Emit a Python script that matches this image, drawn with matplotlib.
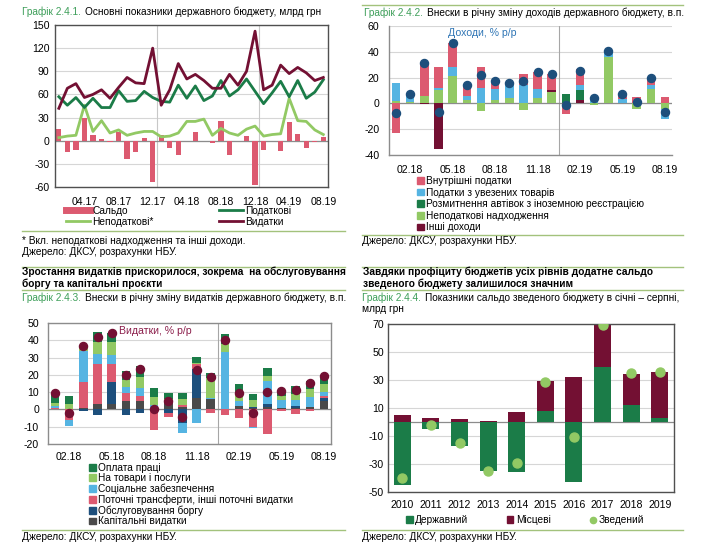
import numpy as np
import matplotlib
matplotlib.use('Agg')
import matplotlib.pyplot as plt
from matplotlib.patches import Patch
from matplotlib.lines import Line2D
from matplotlib.text import Annotation

plt.rcParams['font.family'] = ['Liberation Sans', 'DejaVu Sans']
plt.rcParams['axes.unicode_minus'] = False

# ---------- data ----------
# chart 2.4.1 (monthly, 01.17 - 08.19), bn UAH
m1_ticks = ['04.17', '08.17', '12.17', '04.18', '08.18', '12.18', '04.19', '08.19']
spending = [42, 68, 74, 56, 60, 66, 55, 69, 82, 75, 74, 120, 46, 66, 100, 80,
            86, 78, 68, 68, 86, 72, 90, 142, 66, 72, 98, 87, 95, 88, 78, 82]
tax_rev = [57, 46, 56, 43, 55, 43, 43, 65, 51, 52, 64, 56, 51, 50, 72, 55,
           71, 52, 58, 78, 58, 66, 80, 64, 48, 62, 77, 57, 78, 55, 63, 79]
nontax_rev = [4, 6, 7, 46, 12, 26, 10, 14, 7, 10, 12, 12, 5, 6, 10, 25,
              25, 28, 7, 16, 10, 7, 15, 19, 6, 8, 9, 55, 26, 25, 14, 8]
balance = [15, -15, -12, 29, 7, 2, -2, 11, -24, -14, 4, -53, 7, -9, -19, 0,
           11, 0, -3, 25, -19, 0, 6, -57, -12, -1, -13, 24, 9, -9, -2, 5]

# chart 2.4.2 (01.18 - 08.19), p.p.
m2_ticks = ['02.18', '05.18', '08.18', '11.18', '02.19', '05.19', '08.19']
rev_nontax = [1.5, 1, 6, 10.5, 21, 3, -6, 3, 4, -5, 4, 9, 0, 0, -1, 36, 0.5, -4, 11, -4]
rev_other = [0, 0, -0.7, -35, 0, 0, 0, 0, 0, 0, 0, 1.5, 0, 3, 0, 0, 0, 0, 0, 0]
rev_cars = [0, 0, 0, 0, 0, 0, 0, 0, 0, 0, 0, 0, 7, 7.5, 0, 0, 0, 0, 0, 0]
rev_import = [14, 6, 0, 1.5, 7.5, 3, 12, 8, 12, 14, 7, 0, 0, 4, 5, 5, 3, 0, 3.5, -8]
rev_domestic = [-23, 0, 25, 16, 18.5, 8, 16, 7, 0, 9, 13.5, 12.5, -8, 12.5, 0, 0, 4, 5, 5.5, 5]
rev_total = [-7.5, 7, 31, -7, 47, 14.5, 22, 17.5, 15.5, 17.5, 24.5, 23, -1, 25, 4.5, 41, 7.5, 1, 19.5, -7]

# chart 2.4.3 (01.18 - 08.19), p.p.
exp_capital = [0.5, 0, 1, 3, 3, 5, 5, 0, 3.5, 1.5, 6.5, 6, 0.5, 2, 1, 1.5, 1, 1, 1.5, 5]
exp_debt = [0, 0, -1, -3, 13, -3, -2, 0, -2, -8, 17, 0, 0, 0, 0.5, 1.5, 0, 1, 0, 1.5]
exp_transfers = [0.5, -6, 15, 23, 10, 4.5, 3, -12, -2.5, 1, 2.5, -2, -3.5, -5, -10, -14, -1, -2.5, -1, 1.5]
exp_social = [1, -3.5, 18, 6, 5.5, 3.5, 4.5, 2.5, 0, -5.7, -8, 0.5, 32.5, 3, -1, 13.5, 4.5, 3.5, 5.5, 2]
exp_goods = [2, 3, 2, 7, 7.5, 4, 6.5, 4.5, 2.5, 3.5, 1, 11.5, 5, 5, 4, 3, 2.5, 3.5, 5, 5]
exp_wages = [5.5, 4.5, 1.5, 6, 5.5, 5.5, 6, 5.5, 3.5, 3.5, 3.5, 3, 5.5, 4.5, 3.5, 4.5, 3, 4.5, 4.5, 4.5]
exp_total = [9.5, -2, 36.5, 42, 44.5, 20, 23.5, 0.5, 5, -4.5, 23, 19, 40, 9.5, -2, 10, 10.5, 11, 15.5, 19.5]

# chart 2.4.4 (Jan-Aug), bn UAH
years = ['2010', '2011', '2012', '2013', '2014', '2015', '2016', '2017', '2018', '2019']
state_bal = [-45, -5, -17, -35, -36, 8, -43, 39, 12.5, 3]
local_bal = [5, 3, 2.5, 0.8, 7, 21, 32, 30, 22, 32.5]
consol_bal = [-40, -2, -15, -35, -29, 28.5, -11, 69, 35, 36]

# ---------- style ----------
W, H = 724, 546
FS = 7.3
RED = '#dc5a70'
LBLUE = '#55b4e2'
DGREEN = '#1b7c48'
LGREEN = '#92c964'
MAROON = '#731033'
NAVY = '#1d4f7c'
GRAY = '#4a4a4a'
TITLE_GREEN = '#3e9f5a'
RULE = '#a3c27c'
GRID = '#d6d6d6'
ZERO = '#8c8c8c'

fig = plt.figure(figsize=(W / 100, H / 100), dpi=100)


def px_axes(l, t, r, b):
    return fig.add_axes([l / W, 1 - b / H, (r - l) / W, (b - t) / H])


def txt(x, y, s, **kw):
    return fig.text(x / W, 1 - y / H, s, va='center', fontsize=kw.pop('fontsize', FS), **kw)


def rule(y, x0, x1):
    fig.add_artist(Line2D([x0 / W, x1 / W], [1 - y / H] * 2, color=RULE, lw=1,
                          transform=fig.transFigure))


def chart_title(x, y, num, rest):
    t = txt(x, y, num, color=TITLE_GREEN)
    fig.add_artist(Annotation(rest, xy=(1, 0.5), xycoords=t, xytext=(3, 0),
                              textcoords='offset points', va='center', fontsize=FS))


def stacked(ax, series, colors):
    x = np.arange(len(series[0]))
    pos = np.zeros(len(x))
    neg = np.zeros(len(x))
    for vals, c in zip(series, colors):
        v = np.array(vals, dtype=float)
        ax.bar(x, v, bottom=np.where(v >= 0, pos, neg), width=0.6, color=c, zorder=2)
        pos += np.clip(v, 0, None)
        neg += np.clip(v, None, 0)
    return x


def style_axes(ax, edge):
    for s in ax.spines.values():
        s.set_color(edge)
        s.set_linewidth(1)
    ax.tick_params(length=0, labelsize=7.6)
    ax.yaxis.grid(True, color=GRID, lw=0.8)
    ax.set_axisbelow(True)
    ax.axhline(0, color=ZERO, lw=0.9, zorder=1.5)


# ---------- chart 2.4.1 ----------
ax1 = px_axes(55, 25, 328, 187)
x1 = np.arange(len(spending))
ax1.bar(x1, balance, width=0.62, color=RED, zorder=2)
ax1.plot(x1, nontax_rev, color=LGREEN, lw=2, zorder=3)
ax1.plot(x1, tax_rev, color=DGREEN, lw=2, zorder=4)
ax1.plot(x1, spending, color=MAROON, lw=2, zorder=5)
for xv in [11.5, 23.5]:
    ax1.axvline(xv, color='#c8c8c8', lw=0.8, zorder=1)
ax1.set_xlim(-0.45, 31.55)
ax1.set_ylim(-60, 150)
ax1.set_yticks(range(-60, 151, 30))
ax1.set_xticks([3, 7, 11, 15, 19, 23, 27, 31])
ax1.set_xticklabels(m1_ticks)
style_axes(ax1, '#505050')
ax1.tick_params(axis='x', pad=7)
ax1.tick_params(axis='y', pad=4)

leg_kw = dict(frameon=False, fontsize=FS, handlelength=2.4, handletextpad=0.2,
              labelspacing=0.05, borderpad=0, borderaxespad=0, loc='upper left')
fig.legend(handles=[Line2D([], [], color=RED, lw=5), Line2D([], [], color=LGREEN, lw=2)],
           labels=['Сальдо', 'Неподаткові*'], bbox_to_anchor=(66 / W, 1 - 206 / H), **leg_kw)
fig.legend(handles=[Line2D([], [], color=DGREEN, lw=2), Line2D([], [], color=MAROON, lw=2)],
           labels=['Податкові', 'Видатки'], bbox_to_anchor=(219 / W, 1 - 206 / H), **leg_kw)

chart_title(22, 12, 'Графік 2.4.1.', 'Основні показники державного бюджету, млрд грн')
rule(231, 22, 345)
txt(22, 241, '* Вкл. неподаткові надходження та інші доходи.')
txt(22, 252, 'Джерело: ДКСУ, розрахунки НБУ.')

# ---------- chart 2.4.2 ----------
ax2 = px_axes(389, 26, 672, 155)
x2 = stacked(ax2, [rev_nontax, rev_other, rev_cars, rev_import, rev_domestic],
             [LGREEN, MAROON, DGREEN, LBLUE, RED])
ax2.plot(x2, rev_total, 'o', color=NAVY, ms=5.8, zorder=5)
ax2.set_xlim(-0.5, 19.5)
ax2.set_ylim(-40, 60)
ax2.set_yticks(range(-40, 61, 20))
ax2.axvline(11.5, color='#a6a6a6', lw=0.8, zorder=1)
ax2.set_xticks(range(1, 20, 3))
ax2.set_xticklabels(m2_ticks)
style_axes(ax2, '#8c8c8c')
ax2.spines['top'].set_visible(False)
ax2.spines['right'].set_visible(False)
ax2.tick_params(axis='x', pad=7)
ax2.tick_params(axis='y', pad=7)
ax2.text(3.7, 54.5, 'Доходи, % р/р', color='#2f75b5', fontsize=7.6, va='center')

sq_kw = dict(frameon=False, fontsize=FS, handlelength=0.65, handleheight=0.65,
             handletextpad=0.25, labelspacing=0.08, borderpad=0, borderaxespad=0,
             loc='upper left')
fig.legend(handles=[Patch(color=c) for c in [RED, LBLUE, DGREEN, LGREEN, MAROON]],
           labels=['Внутрішні податки', 'Податки з увезених товарів',
                   'Розмитнення автівок з іноземною реєстрацією',
                   'Неподаткові надходження', 'Інші доходи'],
           bbox_to_anchor=(417 / W, 1 - 176 / H), **dict(sq_kw, labelspacing=0.16))

rule(5, 362, 683)
chart_title(364, 12.5, 'Графік 2.4.2.', 'Внески в річну зміну доходів державного бюджету, в.п.')
rule(235, 362, 683)
txt(362, 241, 'Джерело: ДКСУ, розрахунки НБУ.')

# ---------- chart 2.4.3 ----------
ax3 = px_axes(48, 323, 331, 444)
x3 = stacked(ax3, [exp_capital, exp_debt, exp_transfers, exp_social, exp_goods, exp_wages],
             [GRAY, NAVY, RED, LBLUE, LGREEN, DGREEN])
ax3.plot(x3, exp_total, 'o', color=MAROON, ms=5.8, zorder=5)
ax3.axvline(11.5, color='#a6a6a6', lw=0.8, zorder=1)
ax3.set_xlim(-0.5, 19.5)
ax3.set_ylim(-20, 50)
ax3.set_yticks(range(-20, 51, 10))
ax3.set_xticks(range(1, 20, 3))
ax3.set_xticklabels(m2_ticks)
style_axes(ax3, '#8c8c8c')
ax3.tick_params(axis='x', pad=5.5)
ax3.tick_params(axis='y', pad=6.5)
ax3.text(4.5, 45.5, 'Видатки, % р/р', color='#8b1e4b', fontsize=7.6, va='center')

fig.legend(handles=[Patch(color=c) for c in [DGREEN, LGREEN, LBLUE, RED, NAVY, GRAY]],
           labels=['Оплата праці', 'На товари і послуги', 'Соціальне забезпечення',
                   'Поточні трансферти, інші поточні видатки', 'Обслуговування боргу',
                   'Капітальні видатки'],
           bbox_to_anchor=(89 / W, 1 - 463 / H), **dict(sq_kw, labelspacing=0.04))

rule(266.5, 22, 345)
txt(22, 272, 'Зростання видатків прискорилося, зокрема  на обслуговування', fontweight='bold')
txt(22, 284, 'боргу та капітальні проєкти', fontweight='bold')
rule(290, 22, 345)
chart_title(22, 298, 'Графік 2.4.3.', 'Внески в річну зміну видатків державного бюджету, в.п.')
rule(530, 22, 345)
txt(22, 537, 'Джерело: ДКСУ, розрахунки НБУ.')

# ---------- chart 2.4.4 ----------
ax4 = px_axes(388, 324, 674, 492)
x4 = stacked(ax4, [state_bal, local_bal], [DGREEN, MAROON])
ax4.plot(x4, consol_bal, 'o', color=LGREEN, ms=6.5, zorder=5)
ax4.set_xlim(-0.5, 9.5)
ax4.set_ylim(-50, 70)
ax4.set_yticks(range(-50, 71, 20))
ax4.set_xticks(x4)
ax4.set_xticklabels(years)
style_axes(ax4, '#505050')
ax4.tick_params(axis='x', pad=6)
ax4.tick_params(axis='y', pad=3)

fig.legend(handles=[Patch(color=DGREEN), Patch(color=MAROON),
                    Line2D([], [], marker='o', ls='', color=LGREEN, ms=4.5)],
           labels=['Державний', 'Місцеві', 'Зведений'], ncol=3, columnspacing=3.8,
           bbox_to_anchor=(406 / W, 1 - 515 / H), **sq_kw)

rule(267, 362, 683)
txt(363, 272, 'Завдяки профіциту бюджетів усіх рівнів додатне сальдо', fontweight='bold')
txt(363, 284, 'зведеного бюджету залишилося значним', fontweight='bold')
rule(290, 362, 683)
chart_title(362, 298, 'Графік 2.4.4.', 'Показники сальдо зведеного бюджету в січні – серпні,')
txt(362, 308.5, 'млрд грн')
rule(530, 362, 683)
txt(362, 537, 'Джерело: ДКСУ, розрахунки НБУ.')

fig.savefig('out.png', dpi=100, facecolor='white')
